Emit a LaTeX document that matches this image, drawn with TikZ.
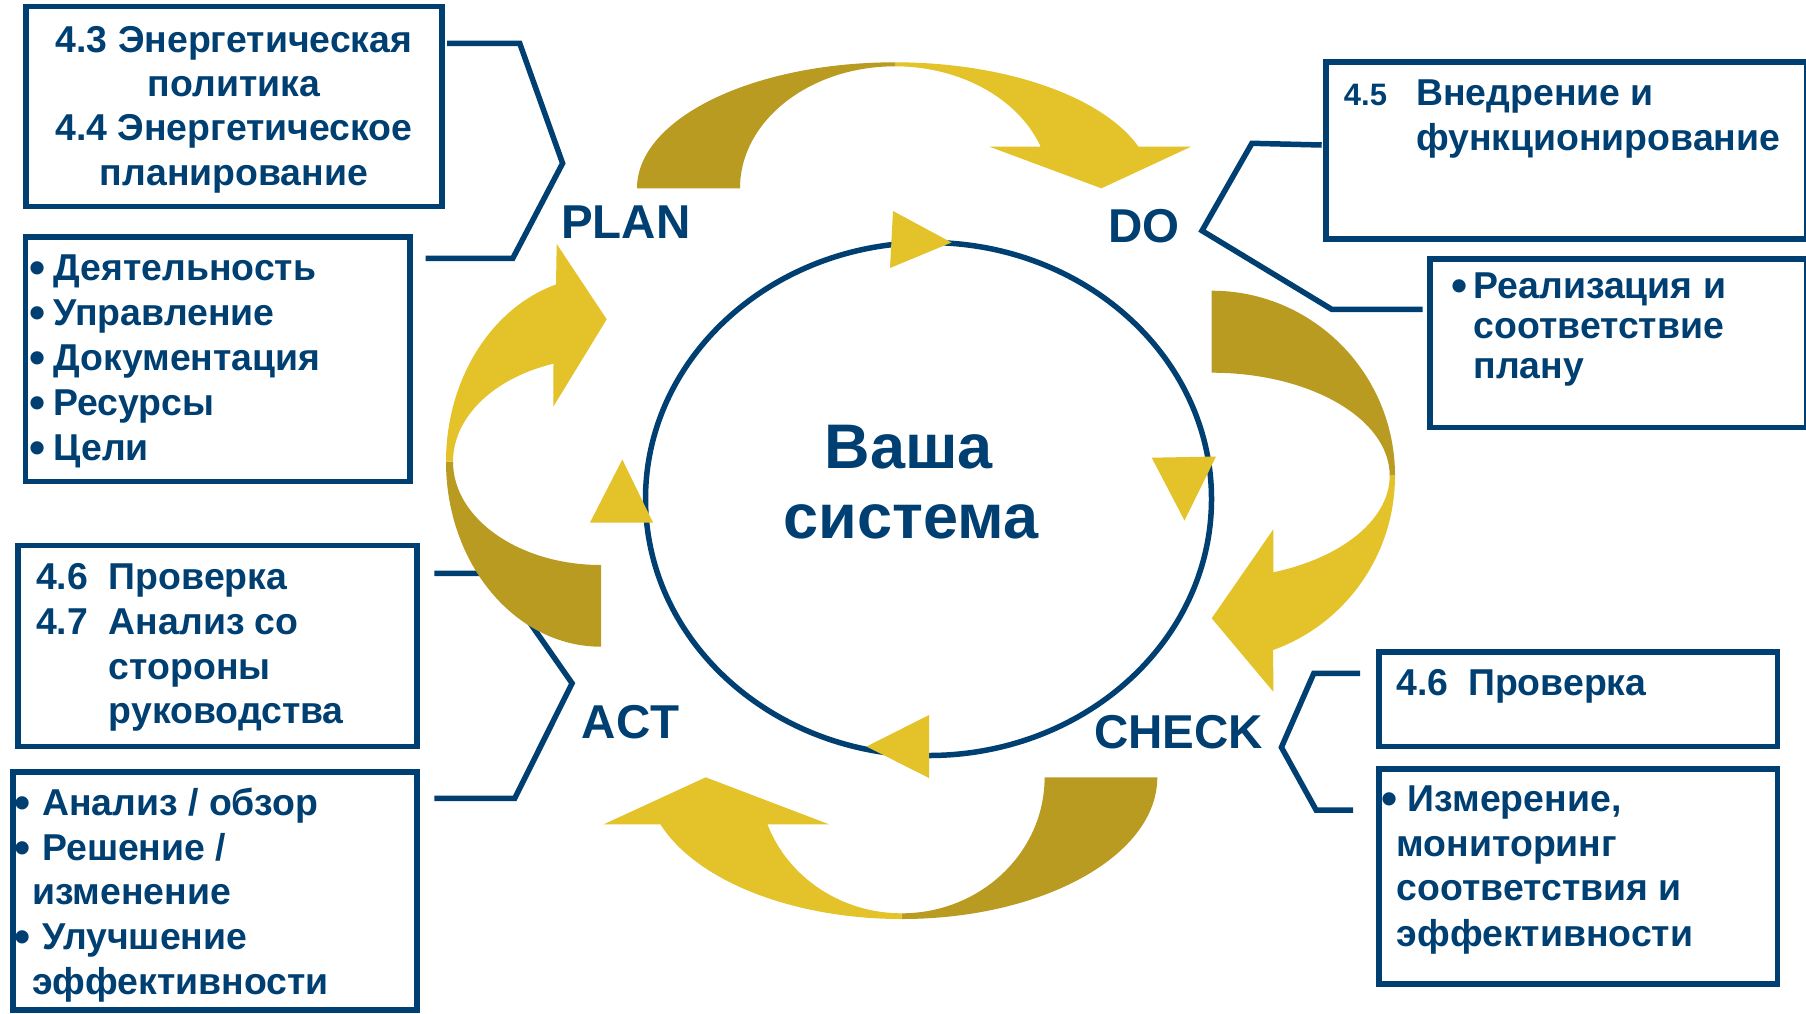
\documentclass[tikz,border=0pt]{standalone}
\usepackage{fontspec}
\setmainfont{Liberation Sans}
\usetikzlibrary{shapes.geometric}
\definecolor{navy}{RGB}{0,63,113}
\definecolor{golddark}{RGB}{184,155,32}
\definecolor{goldlight}{RGB}{228,195,42}
\begin{document}
\begin{tikzpicture}[x=1pt,y=-1pt,
  panel/.style={draw=navy,line width=5.5pt,rectangle,inner sep=0pt,outer sep=0pt},
  bracket/.style={draw=navy,line width=5.5pt,line join=miter},
  body/.style={text=navy,font=\bfseries\fontsize{37.4}{44}\selectfont,inner sep=0pt,anchor=base west},
  dot/.style={body,font=\bfseries\fontsize{46}{50}\selectfont,yshift=-3.3pt},
  small/.style={body,font=\bfseries\fontsize{31}{37}\selectfont},
  phase/.style={body,font=\bfseries\fontsize{47.5}{56}\selectfont},
  centre/.style={text=navy,font=\bfseries\fontsize{63}{72}\selectfont,inner sep=0pt,anchor=base},
  pointer/.style={fill=goldlight},
]
\useasboundingbox (0,0) rectangle (1806,1013);
\clip (0,0) rectangle (1806,1013);
\fill[white] (0,0) rectangle (1806,1013);

% ---------- brackets joining the text panels to the phase names
\coordinate (pa1) at (447,43.3);   \coordinate (pa2) at (519.7,43.3);
\coordinate (pav) at (562.6,163.3);
\coordinate (pa3) at (512.8,258.3); \coordinate (pa4) at (425.6,258.3);
\draw[bracket] (pa1) -- (pa2) -- (pav) -- (pa3) -- (pa4);

\coordinate (da1) at (1321.7,145);  \coordinate (da2) at (1251.9,143.3);
\coordinate (dav) at (1202,230.7);
\coordinate (da3) at (1331.7,309.3); \coordinate (da4) at (1422.7,309.3);
\draw[bracket] (da1) -- (da2) -- (dav) -- (da3) -- (da4);

\coordinate (aa1) at (434.4,573.3); \coordinate (aa2) at (495.4,573.3);
\coordinate (aav) at (572.1,683.3);
\coordinate (aa3) at (514.7,798.3); \coordinate (aa4) at (434.4,798.3);
\draw[bracket] (aa1) -- (aa2) -- (aav) -- (aa3) -- (aa4);

\coordinate (ca1) at (1360,673.3);  \coordinate (ca2) at (1313.8,673.3);
\coordinate (cav) at (1281.4,747.3);
\coordinate (ca3) at (1316.1,810);  \coordinate (ca4) at (1353.1,810);
\draw[bracket] (ca1) -- (ca2) -- (cav) -- (ca3) -- (ca4);

% ---------- central cycle
\node[draw=navy,line width=5.5pt,ellipse,inner sep=0pt,
      minimum width=566pt,minimum height=513pt] (core) at (928.5,499) {};
\fill[pointer] (893,211) -- (890,268) -- (951.5,242.5) -- cycle;
\fill[pointer] (1151.7,457.7) -- (1216,456.5) -- (1184.5,520.5) -- cycle;
\fill[pointer] (929,715) -- (929,778) -- (866.5,746.5) -- cycle;
\fill[pointer] (622.3,459.5) -- (590,522.5) -- (653,522.5) -- cycle;

% ---------- twisted ribbon arrows (back face dark, front face light)
% PLAN -> DO
\fill[golddark] (637,188.3) arc[start angle=180,end angle=270,x radius=258,y radius=126]
  -- (895,66.3) arc[start angle=270,end angle=180,x radius=155,y radius=122] -- cycle;
\fill[goldlight] (895,62.3) arc[start angle=270,end angle=340.73,x radius=258,y radius=126]
  -- (1191,146.7) -- (1101.4,188.3) -- (989.5,146.7) -- (1040.7,146.7)
  arc[start angle=340.06,end angle=270,x radius=155,y radius=122] -- cycle;
% DO -> CHECK
\fill[golddark] (1211.7,290.7) arc[start angle=270,end angle=360,x radius=183.3,y radius=185]
  -- (1389.7,475.7) arc[start angle=360,end angle=270,x radius=178,y radius=103] -- cycle;
\fill[goldlight] (1395,475.7) arc[start angle=0,end angle=70.4,x radius=183.3,y radius=185]
  -- (1273.3,691.7) -- (1211.7,618.3) -- (1273.3,529.3) -- (1273.3,572.3)
  arc[start angle=69.75,end angle=0,x radius=178,y radius=103] -- cycle;
% CHECK -> ACT
\fill[golddark] (1157.3,777.3) arc[start angle=0,end angle=90,x radius=255.7,y radius=141.7]
  -- (901.6,913.3) arc[start angle=90,end angle=0,x radius=143,y radius=136] -- cycle;
\fill[goldlight] (901.6,919) arc[start angle=90,end angle=160.63,x radius=255.7,y radius=141.7]
  -- (603.7,824.3) -- (705.7,777.3) -- (829.1,824.3) -- (767.4,824.3)
  arc[start angle=159.78,end angle=90,x radius=143,y radius=136] -- cycle;
% ACT -> PLAN
\fill[golddark] (601,646.7) arc[start angle=90,end angle=180,x radius=155,y radius=185.1]
  -- (453,461.6) arc[start angle=180,end angle=90,x radius=148,y radius=103.4] -- cycle;
\fill[goldlight] (446,461.6) arc[start angle=180,end angle=253.12,x radius=155,y radius=185.1]
  -- (556.7,244) -- (606.7,319.3) -- (553.3,406.7) -- (553.5,363.7)
  arc[start angle=251.28,end angle=180,x radius=148,y radius=103.4] -- cycle;

% ---------- phase names and centre text
\node[phase] (plan)  at (561,238.5) {PLAN};
\node[phase] (do)    at (1108,242) {DO};
\node[phase] (check) at (1094,748) {CHECK};
\node[phase] (act)   at (581.7,738) {ACT};
\node[centre] (sys1) at (909,468) {Ваша};
\node[centre] (sys2) at (911,538) {система};

% ---------- text panels
\node[panel,minimum width=416.3pt,minimum height=199.8pt] (plantop) at (233.9,106.6) {};
\node[panel,minimum width=384.5pt,minimum height=244.5pt] (planlist) at (217.7,359) {};
\node[panel,minimum width=481pt,minimum height=177pt] (dotop) at (1566.4,150.5) {};
\node[panel,minimum width=376.8pt,minimum height=168.5pt] (dolist) at (1618.6,343) {};
\node[panel,minimum width=399pt,minimum height=201pt] (acttop) at (217.5,646) {};
\node[panel,minimum width=404.3pt,minimum height=238pt] (actlist) at (214.9,891) {};
\node[panel,minimum width=398.3pt,minimum height=94.5pt] (checktop) at (1578.1,699.3) {};
\node[panel,minimum width=398.3pt,minimum height=215.3pt] (checklist) at (1578.1,876.4) {};

% PLAN panels
\node[body,anchor=base] (pt1) at (234,52) {4.3 Энергетическая};
\node[body,anchor=base] (pt2) at (234,96.5) {политика};
\node[body,anchor=base] (pt3) at (234,140.5) {4.4 Энергетическое};
\node[body,anchor=base] (pt4) at (234,185) {планирование};

\node[dot] (pb1) at (29.4,280.5) {•}; \node[body] (pl1) at (53.3,280.5) {Деятельность};
\node[dot] (pb2) at (29.4,325.4) {•}; \node[body] (pl2) at (53.3,325.4) {Управление};
\node[dot] (pb3) at (29.4,370.3) {•}; \node[body] (pl3) at (53.3,370.3) {Документация};
\node[dot] (pb4) at (29.4,415.2) {•}; \node[body] (pl4) at (53.3,415.2) {Ресурсы};
\node[dot] (pb5) at (29.4,460.1) {•}; \node[body] (pl5) at (53.3,460.1) {Цели};

% DO panels
\node[small] (dn) at (1343.7,105) {4.5};
\node[body] (dt1) at (1416,105) {Внедрение и};
\node[body] (dt2) at (1416,150) {функционирование};

\node[dot] (db1) at (1451,298) {•};
\node[body] (dl1) at (1473.4,298) {Реализация и};
\node[body] (dl2) at (1473.4,338.5) {соответствие};
\node[body] (dl3) at (1473.4,378.5) {плану};

% ACT panels
\node[body] (an1) at (36,589.5) {4.6}; \node[body] (at1) at (108.7,589.5) {Проверка};
\node[body] (an2) at (36,634.3) {4.7}; \node[body] (at2) at (108.7,634.3) {Анализ со};
\node[body] (at3) at (108.7,679) {стороны};
\node[body] (at4) at (108.7,723.6) {руководства};

\node[dot] (ab1) at (14.5,815.2) {•}; \node[body] (al1) at (42,815.2) {Анализ / обзор};
\node[dot] (ab2) at (14.5,860.2) {•}; \node[body] (al2) at (42,860.2) {Решение /};
\node[body] (al3) at (32,904.3) {изменение};
\node[dot] (ab3) at (14.5,949.2) {•}; \node[body] (al4) at (42,949.2) {Улучшение};
\node[body] (al5) at (32,994) {эффективности};

% CHECK panels
\node[body] (cn1) at (1396,695) {4.6}; \node[body] (ct1) at (1468,695) {Проверка};

\node[dot] (cb1) at (1381,811) {•};
\node[body] (cl1) at (1407.7,811) {Измерение,};
\node[body] (cl2) at (1396.5,856.5) {мониторинг};
\node[body] (cl3) at (1396.5,900.7) {соответствия и};
\node[body] (cl4) at (1396.5,946) {эффективности};
\end{tikzpicture}
\end{document}
